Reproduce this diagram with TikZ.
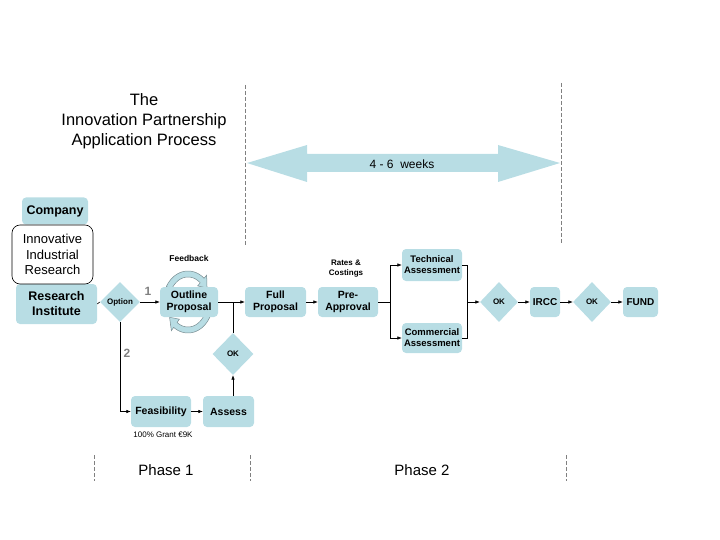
\documentclass[tikz,border=0pt]{standalone}
\usepackage{fontspec}
\setmainfont{Liberation Sans}
\usetikzlibrary{shapes.geometric,arrows.meta}
\definecolor{boxblue}{RGB}{184,221,228}
\definecolor{ringgray}{RGB}{120,140,145}
\begin{document}
\begin{tikzpicture}[x=1pt,y=-1pt,
  box/.style={fill=boxblue,rounded corners=4pt,inner sep=0pt,align=center,font=\bfseries\fontsize{10.5}{11.5}\selectfont},
  dia/.style={diamond,fill=boxblue,inner sep=0pt,aspect=1,font=\bfseries\fontsize{8}{9}\selectfont},
  conn/.style={draw=black,line width=0.6pt},
  arr/.style={conn,-{Latex[length=4.5pt,width=3.5pt]}},
  dline/.style={draw=gray,line width=0.5pt,dash pattern=on 4pt off 2pt},
  small/.style={font=\bfseries\fontsize{8}{10}\selectfont,align=center}]
\useasboundingbox (0,0) rectangle (720,540);
% title
\node[align=center,font=\fontsize{16.5}{20}\selectfont] (title) at (144,121) {The\\Innovation Partnership\\Application Process};
% dashed lines
\draw[dline] (245,85) -- (245,245);
\draw[dline] (561,83) -- (561,243);
\draw[dline] (94,455) -- (94,481);
\draw[dline] (250,455) -- (250,481);
\draw[dline] (566,455) -- (566,481);
% double arrow
\fill[boxblue] (247,163) -- (307,145) -- (307,154) -- (498,154) -- (498,145) -- (560,163) -- (498,182) -- (498,172) -- (307,172) -- (307,182) -- cycle;
\node[font=\fontsize{12}{13}\selectfont] (weeks) at (402,164) {4 - 6\ \ weeks};
% left boxes
\node[box,minimum width=66pt,minimum height=27pt,font=\bfseries\fontsize{12.5}{14}\selectfont] (company) at (55,211) {Company};
\node[box,minimum width=81pt,minimum height=40pt,font=\bfseries\fontsize{12.5}{15}\selectfont] (ri) at (56.5,304) {Research\\Institute};
\node[draw=black,fill=white,rounded corners=8pt,line width=0.6pt,minimum width=81pt,minimum height=59pt,align=center,font=\fontsize{13}{15.5}\selectfont] (iir) at (52.5,254.5) {Innovative\\Industrial\\Research};
% circular feedback arrows (behind box)
\def\cx{188}\def\cy{302}\def\rx{22}\def\ry{28}
\filldraw[fill=boxblue,draw=ringgray,line width=0.5pt]
  plot[domain=150:50,samples=30] ({\cx+(\rx+3)*cos(\x)},{\cy-(\ry+3)*sin(\x)})
  -- ({\cx+(\rx+7)*cos(50)},{\cy-(\ry+7)*sin(50)})
  -- ({\cx+\rx*cos(30)},{\cy-\ry*sin(30)})
  -- ({\cx+(\rx-7)*cos(50)},{\cy-(\ry-7)*sin(50)})
  -- plot[domain=50:150,samples=30] ({\cx+(\rx-3)*cos(\x)},{\cy-(\ry-3)*sin(\x)})
  -- cycle;
\filldraw[fill=boxblue,draw=ringgray,line width=0.5pt]
  plot[domain=-15:-125,samples=30] ({\cx+(\rx+3)*cos(\x)},{\cy-(\ry+3)*sin(\x)})
  -- ({\cx+(\rx+7)*cos(-125)},{\cy-(\ry+7)*sin(-125)})
  -- ({\cx+\rx*cos(-147)},{\cy-\ry*sin(-147)})
  -- ({\cx+(\rx-7)*cos(-125)},{\cy-(\ry-7)*sin(-125)})
  -- plot[domain=-125:-15,samples=30] ({\cx+(\rx-3)*cos(\x)},{\cy-(\ry-3)*sin(\x)})
  -- cycle;
% phase 1 nodes
\node[dia,minimum width=40pt,minimum height=40pt] (option) at (120,302) {Option};
\node[box,minimum width=58pt,minimum height=30pt] (outline) at (189,302) {Outline\\Proposal};
\node[small,font=\bfseries\fontsize{8.5}{10}\selectfont] (feedback) at (189,258) {Feedback};
\node[box,minimum width=61pt,minimum height=30pt] (full) at (275.5,302) {Full\\Proposal};
\node[box,minimum width=60pt,minimum height=30pt] (preapp) at (348,302) {Pre-\\Approval};
\node[small] (rates) at (346,268.5) {Rates \&\\Costings};
\node[dia,minimum width=41pt,minimum height=42pt] (ok1) at (233,354) {OK};
\node[box,minimum width=60pt,minimum height=31pt] (feas) at (161,411.5) {Feasibility};
\node[box,minimum width=51pt,minimum height=31pt] (assess) at (228.5,411.5) {Assess};
\node[font=\fontsize{8}{9}\selectfont] (grant) at (163,435) {100\% Grant €9K};
\node[text=gray,font=\bfseries\fontsize{12}{13}\selectfont] (one) at (148,291) {1};
\node[text=gray,font=\bfseries\fontsize{12}{13}\selectfont] (two) at (127,353) {2};
% phase 2 nodes
\node[box,minimum width=60pt,minimum height=32pt,font=\bfseries\fontsize{9.5}{11}\selectfont] (tech) at (432,265) {Technical\\Assessment};
\node[box,minimum width=60pt,minimum height=30pt,font=\bfseries\fontsize{9.5}{11}\selectfont] (comm) at (432,338) {Commercial\\Assessment};
\node[dia,minimum width=38pt,minimum height=40pt] (ok2) at (499,302) {OK};
\node[box,minimum width=30pt,minimum height=30pt,font=\bfseries\fontsize{10}{11}\selectfont] (ircc) at (545,302) {IRCC};
\node[dia,minimum width=38pt,minimum height=40pt] (ok3) at (592,302) {OK};
\node[box,minimum width=35pt,minimum height=30pt,font=\bfseries\fontsize{10}{11}\selectfont] (fund) at (640.5,302) {FUND};
% junctions
\coordinate (j1) at (233,302);
\coordinate (j2) at (390,302);
\coordinate (j3) at (467,302);
% connectors
\draw[conn] (ri.east) -- (option.west);
\draw[arr] (option.east) -- (outline.west);
\draw[arr] (outline.east) -- (full.west);
\draw[conn] (ok1.north) -- (j1);
\draw[arr] (ok1.south |- assess.north) -- (ok1.south);
\draw[arr] (option.south) |- (feas.west);
\draw[arr] (feas.east) -- (assess.west);
\draw[arr] (full.east) -- (preapp.west);
\draw[conn] (preapp.east) -- (j2);
\draw[arr] (j2) |- (tech.west);
\draw[arr] (j2) |- (comm.west);
\draw[conn] (tech.east) -| (j3);
\draw[conn] (comm.east) -| (j3);
\draw[arr] (j3) -- (ok2.west);
\draw[arr] (ok2.east) -- (ircc.west);
\draw[arr] (ircc.east) -- (ok3.west);
\draw[arr] (ok3.east) -- (fund.west);
% phases
\node[font=\fontsize{15}{16}\selectfont] (ph1) at (166,470) {Phase 1};
\node[font=\fontsize{15}{16}\selectfont] (ph2) at (422,470) {Phase 2};
\end{tikzpicture}
\end{document}
